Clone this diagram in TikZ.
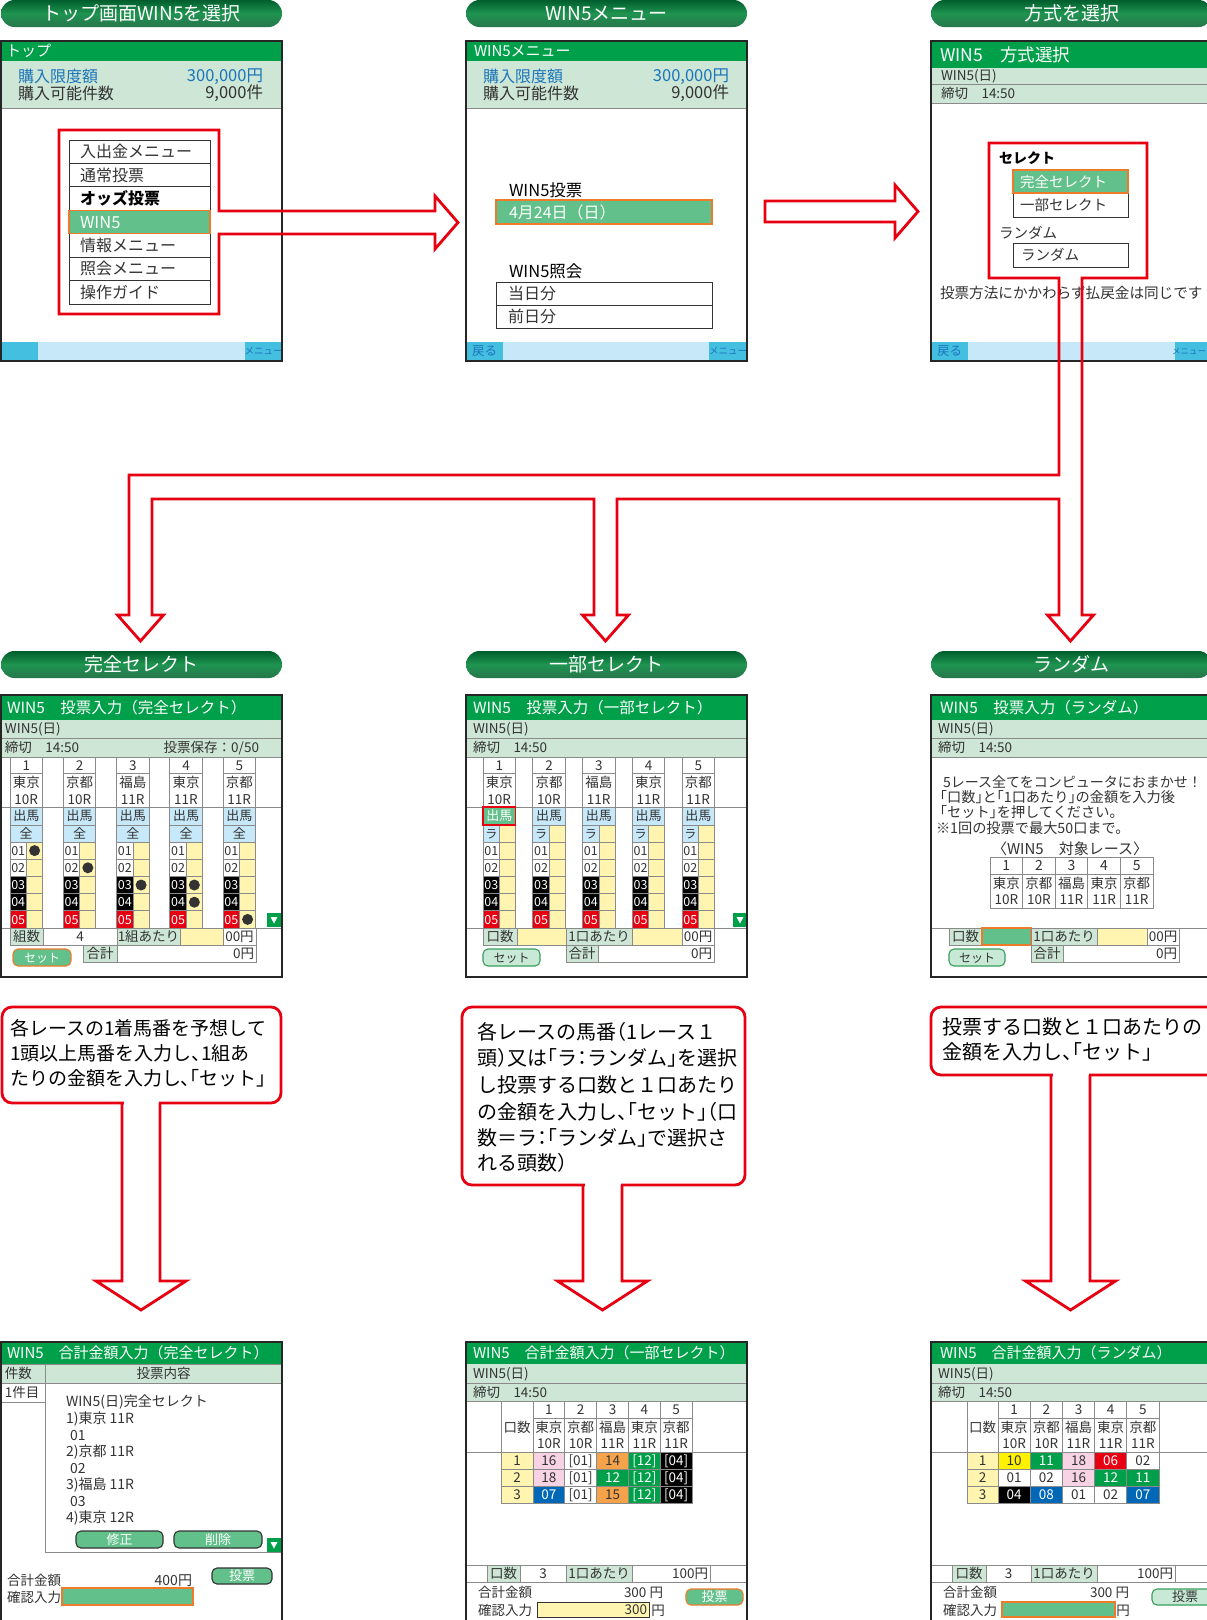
\documentclass[tikz,border=0pt]{standalone}
\usepackage{fontspec}
\setmainfont{Noto Sans CJK JP}
\newfontfamily\cfont[RawFeature=+halt]{Noto Sans CJK JP}
\usetikzlibrary{calc}
\definecolor{hdrg}{HTML}{00A04A}
\definecolor{lgr}{HTML}{CDE6D5}
\definecolor{selg}{HTML}{62C08A}
\definecolor{org}{HTML}{EE7B2C}
\definecolor{myred}{HTML}{E60012}
\definecolor{lblue}{HTML}{C6E8F8}
\definecolor{cyanb}{HTML}{45BFE0}
\definecolor{ylw}{HTML}{FFF5B1}
\definecolor{pnk}{HTML}{F8D3E3}
\definecolor{orng}{HTML}{F5A34A}
\definecolor{blu}{HTML}{0068B7}
\definecolor{txtb}{HTML}{1B75BC}
\definecolor{dk}{HTML}{333333}
\definecolor{pilld}{HTML}{005E2C}
\definecolor{pillm}{HTML}{1F9450}
\definecolor{byel}{HTML}{FFF100}
\definecolor{gline}{HTML}{8A8A8A}
\definecolor{btng}{HTML}{3A9E5E}
\newcommand\fs[1]{\fontsize{#1}{#1}\selectfont}
\newcounter{nc}
\newcommand\st{\rule[-0.12em]{0pt}{1em}}
\newcommand\T[4][]{\stepcounter{nc}\node[tx,#1] (t\arabic{nc}) at (#2,#3) {\st#4};}
\newcommand\B[7][]{\draw[cl,fill=#6] (#2,#3) rectangle (#4,#5);\stepcounter{nc}\node[tx,anchor=center,#1] (t\arabic{nc}) at ({(#2+#4)/2},{(#3+#5)/2}) {\st#7};}
\newcommand\pill[5]{\shade[pillst] (#1,#3) rectangle (#2,#4);\stepcounter{nc}\node[tx,anchor=center,text=white,font=\fs{19}] (t\arabic{nc}) at ({(#1+#2)/2},{(#3+#4)/2}) {\st#5};}
\newcommand\btn[8][]{\draw[rounded corners=5,line width=1.1,fill=#6,draw=#7] (#2,#3) rectangle (#4,#5);\stepcounter{nc}\node[tx,anchor=center,#1] (t\arabic{nc}) at ({(#2+#4)/2},{(#3+#5)/2}) {\st#8};}
\newcommand\Dc[7]{\pgfmathsetmacro\dxa{#1+#2*(#3-1)}\pgfmathsetmacro\dxb{\dxa+#2}\pgfmathsetmacro\dya{1452+17*(#4-1)}\pgfmathsetmacro\dyb{\dya+17}\B[text=#6,font=\fs{13.5}]{\dxa}{\dya}{\dxb}{\dyb}{#5}{#7}}
\newcommand\tri[2]{\fill[hdrg] (#1,#2) rectangle ({#1+14},{#2+14});\fill[white] ({#1+3.5},{#2+4}) -- ({#1+10.5},{#2+4}) -- ({#1+7},{#2+10.5}) -- cycle;}
\begin{document}
\begin{tikzpicture}[x=1pt,y=-1pt,
  tx/.style={inner sep=0pt,outer sep=0pt,anchor=west,font=\fs{13.5},text=dk},
  cl/.style={draw=gline,line width=0.9},
  frame/.style={draw=black!85,line width=1.8},
  redl/.style={draw=myred,line width=2.8,line join=miter,miter limit=10},
  pillst/.style={rounded corners=13.5,top color=pilld,bottom color=pilld!85!white,middle color=pillm}]
\clip (0,0) rectangle (1207,1620);
\fill[white] (0,0) rectangle (1207,1620);

% ================= ROW 1 =================
\pill{1}{282}{0}{27}{トップ画面WIN5を選択}
\pill{466}{747}{0}{27}{WIN5メニュー}
\pill{931}{1212}{0}{27}{方式を選択}

% ---- Panel A
\fill[hdrg] (1,41) rectangle (282,61);
\T[text=white,font=\fs{15}]{6}{51}{トップ}
\fill[lgr] (1,61) rectangle (282,108);
\draw[cl] (1,108) -- (282,108);
\T[text=txtb,font=\fs{16}]{18}{76}{購入限度額}
\T[font=\fs{16}]{18}{93}{購入可能件数}
\T[text=txtb,font=\fs{16.5},anchor=east]{263}{76}{300,000円}
\T[font=\fs{16.5},anchor=east]{263}{93}{9,000件}
\foreach \ya in {140,163.43,186.86,233.71,257.14,280.57}{\draw[dk,line width=1,fill=white] (69,\ya) rectangle (210,\ya+23.43);}
\draw[org,fill=selg,line width=1.1] (69,210.3) rectangle (210,233.7);
\T[font=\fs{16}]{80}{151.7}{入出金メニュー}
\T[font=\fs{16}]{80}{175.1}{通常投票}
\T[font=\bfseries\fs{16},text=black]{80}{198.6}{オッズ投票}
\T[font=\fs{16.5},text=white]{80}{222}{WIN5}
\T[font=\fs{16}]{80}{245.4}{情報メニュー}
\T[font=\fs{16}]{80}{268.9}{照会メニュー}
\T[font=\fs{16}]{80}{292.3}{操作ガイド}
\fill[lblue] (1,342) rectangle (282,360);
\fill[cyanb] (1,342) rectangle (38,360);
\fill[cyanb] (245,342) rectangle (282,360);
\T[text=txtb,font=\fs{9.5},anchor=center]{263.5}{351}{メニュー}
\draw[frame] (1,41) rectangle (282,361);
\draw[redl] (219,211) -- (219,130) -- (59,130) -- (59,314) -- (219,314) -- (219,234) -- (435,234) -- (435,249) -- (458,222.5) -- (435,196) -- (435,211) -- cycle;

% ---- Panel B
\fill[hdrg] (466,41) rectangle (747,61);
\T[text=white,font=\fs{15}]{474}{51}{WIN5メニュー}
\fill[lgr] (466,61) rectangle (747,108);
\draw[cl] (466,108) -- (747,108);
\T[text=txtb,font=\fs{16}]{483}{76}{購入限度額}
\T[font=\fs{16}]{483}{93}{購入可能件数}
\T[text=txtb,font=\fs{16.5},anchor=east]{729}{76}{300,000円}
\T[font=\fs{16.5},anchor=east]{729}{93}{9,000件}
\T[text=black,font=\fs{16.5}]{509}{190}{WIN5投票}
\draw[org,fill=selg,line width=1.1] (496,200) rectangle (712,224);
\T[text=white,font=\fs{16}]{509}{212}{4月24日（日）}
\T[text=black,font=\fs{16.5}]{509}{271}{WIN5照会}
\draw[dk,line width=1,fill=white] (496,282) rectangle (712,305);
\draw[dk,line width=1,fill=white] (496,305) rectangle (712,328);
\T[font=\fs{16}]{508}{293.5}{当日分}
\T[font=\fs{16}]{508}{316.5}{前日分}
\fill[lblue] (466,342) rectangle (747,360);
\fill[cyanb] (466,342) rectangle (503,360);
\fill[cyanb] (709,342) rectangle (747,360);
\T[text=txtb,font=\fs{12.5},anchor=center]{484.5}{351}{戻る}
\T[text=txtb,font=\fs{9.5},anchor=center]{728}{351}{メニュー}
\draw[frame] (466,41) rectangle (747,361);
\draw[redl] (765,201) -- (895,201) -- (895,185) -- (918,211.5) -- (895,238) -- (895,222) -- (765,222) -- cycle;

% ---- Panel C
\fill[hdrg] (931,41) rectangle (1215,68);
\T[text=white,font=\fs{17.5}]{940}{54.5}{WIN5　方式選択}
\fill[lgr] (931,68) rectangle (1215,103);
\draw[cl] (931,84) -- (1215,84) (931,103) -- (1215,103);
\T{941}{76}{WIN5(日)}
\T{941}{93.5}{締切　14:50}
\T[text=black,font=\bfseries\fs{14}]{999}{158}{セレクト}
\draw[dk,line width=1,fill=white] (1013,193) rectangle (1128,217);
\draw[org,fill=selg,line width=1.1] (1013,170) rectangle (1128,193);
\T[text=white,font=\fs{14.5}]{1020}{181.5}{完全セレクト}
\T[font=\fs{14.5}]{1020}{205}{一部セレクト}
\T[font=\fs{14.5}]{999}{233}{ランダム}
\draw[dk,line width=1,fill=white] (1013,243) rectangle (1128,267);
\T[font=\fs{14.5}]{1021}{255}{ランダム}
\T[font=\fs{14.6}]{940}{293}{投票方法にかかわらず払戻金は同じです}
\fill[lblue] (931,342) rectangle (1215,360);
\fill[cyanb] (931,342) rectangle (968,360);
\fill[cyanb] (1175,342) rectangle (1215,360);
\T[text=txtb,font=\fs{12.5},anchor=center]{949.5}{351}{戻る}
\T[text=txtb,font=\fs{8.5},anchor=east]{1206}{351}{メニュー}
\draw[frame] (931,41) rectangle (1215,361);
\draw[redl] (1059,278) -- (989,278) -- (989,143) -- (1147,143) -- (1147,278) -- (1082,278) -- (1082,615) -- (1093.5,615) -- (1070.5,641) -- (1047.5,615) -- (1059,615) -- (1059,499) -- (617,499) -- (617,615) -- (628.5,615) -- (605.5,641) -- (582.5,615) -- (594,615) -- (594,499) -- (152,499) -- (152,615) -- (163.5,615) -- (140.5,641) -- (117.5,615) -- (129,615) -- (129,475) -- (1059,475) -- cycle;

% ================= ROW 2 =================
\pill{1}{282}{651}{678}{完全セレクト}
\pill{466}{747}{651}{678}{一部セレクト}
\pill{931}{1212}{651}{678}{ランダム}

% ---- Panel D
\fill[hdrg] (1,695) rectangle (282,720);
\T[text=white,font=\fs{15.5}]{7}{707.5}{WIN5　投票入力（完全セレクト）}
\fill[lgr] (1,720) rectangle (282,757);
\draw[cl] (1,738) -- (282,738) (1,757) -- (282,757) (1,807) -- (282,807) (1,928) -- (282,928);
\T{5}{729}{WIN5(日)}
\T{5}{747.5}{締切　14:50}
\T[anchor=east]{259}{747.5}{投票保存：0/50}
\foreach \n/\p/\r [count=\k] in {1/東京/10R,2/京都/10R,3/福島/11R,4/東京/11R,5/京都/11R}{
  \pgfmathsetmacro\xa{10+53.25*(\k-1)}
  \pgfmathsetmacro\xb{\xa+32.5}
  \pgfmathsetmacro\xm{\xa+16.5}
  \pgfmathsetmacro\xc{\xa+16.25}
  \B[font=\fs{13.5}]{\xa}{757}{\xb}{773}{white}{\n}
  \draw[cl,fill=white] (\xa,773) rectangle (\xb,807);
  \T[anchor=center,font=\fs{13.5}]{\xc}{782}{\p}
  \T[anchor=center,font=\fs{13.5}]{\xc}{799}{\r}
  \B[font=\fs{13}]{\xa}{807}{\xb}{825}{lblue}{出馬}
  \B[font=\fs{13}]{\xa}{825}{\xb}{842}{lblue}{全}
  \foreach \lab/\lf/\lt [count=\j] in {01/white/dk,02/white/dk,03/black/white,04/black/white,05/myred/white}{
    \pgfmathsetmacro\ya{842+17.2*(\j-1)}
    \pgfmathsetmacro\yb{\ya+17.2}
    \B[text=\lt,font=\fs{12.5}]{\xa}{\ya}{\xm}{\yb}{\lf}{\lab}
    \draw[cl,fill=ylw] (\xm,\ya) rectangle (\xb,\yb);
  }
}
\foreach \c/\r in {1/1,2/2,3/3,4/3,4/4,5/5}{\fill[black!80] ({10+53.25*(\c-1)+24.6},{842+17.2*(\r-1)+8.6}) circle (5.5pt);}
\tri{267}{913}
\B{10}{928}{43}{945}{lgr}{組数}
\B{43}{928}{117}{945}{white}{4}
\B{117}{928}{180}{945}{lgr}{1組あたり}
\draw[cl,fill=ylw] (180,928) rectangle (223,945);
\B{223}{928}{256}{945}{white}{00円}
\B{83}{945}{117}{962}{lgr}{合計}
\draw[cl,fill=white] (117,945) rectangle (256,962);
\T[anchor=east]{254}{953.5}{0円}
\btn[text=white,font=\fs{12}]{13}{949}{71}{966}{selg}{org}{セット}
\draw[frame] (1,695) rectangle (282,977);

% ---- Panel E
\fill[hdrg] (466,695) rectangle (747,720);
\T[text=white,font=\fs{15.5}]{473}{707.5}{WIN5　投票入力（一部セレクト）}
\fill[lgr] (466,720) rectangle (747,757);
\draw[cl] (466,738) -- (747,738) (466,757) -- (747,757) (466,807) -- (747,807) (466,928) -- (747,928);
\T{473}{729}{WIN5(日)}
\T{473}{747.5}{締切　14:50}
\foreach \n/\p/\r [count=\k] in {1/東京/10R,2/京都/10R,3/福島/11R,4/東京/11R,5/京都/11R}{
  \pgfmathsetmacro\xa{483+49.75*(\k-1)}
  \pgfmathsetmacro\xb{\xa+32.5}
  \pgfmathsetmacro\xm{\xa+16.5}
  \pgfmathsetmacro\xc{\xa+16.25}
  \B[font=\fs{13.5}]{\xa}{757}{\xb}{773}{white}{\n}
  \draw[cl,fill=white] (\xa,773) rectangle (\xb,807);
  \T[anchor=center,font=\fs{13.5}]{\xc}{782}{\p}
  \T[anchor=center,font=\fs{13.5}]{\xc}{799}{\r}
  \B[font=\fs{13}]{\xa}{807}{\xb}{825}{lblue}{出馬}
  \B[font=\fs{12}]{\xa}{825}{\xm}{842}{lblue}{ラ}
  \draw[cl,fill=ylw] (\xm,825) rectangle (\xb,842);
  \foreach \lab/\lf/\lt [count=\j] in {01/white/dk,02/white/dk,03/black/white,04/black/white,05/myred/white}{
    \pgfmathsetmacro\ya{842+17.2*(\j-1)}
    \pgfmathsetmacro\yb{\ya+17.2}
    \B[text=\lt,font=\fs{12.5}]{\xa}{\ya}{\xm}{\yb}{\lf}{\lab}
    \draw[cl,fill=ylw] (\xm,\ya) rectangle (\xb,\yb);
  }
}
\draw[myred,line width=1.2,fill=selg] (483,807) rectangle (515.5,825);
\T[anchor=center,text=white,font=\fs{13}]{499.25}{816}{出馬}
\tri{733}{913}
\B{483}{928}{517}{945}{lgr}{口数}
\draw[cl,fill=ylw] (517,928) rectangle (566,945);
\B{566}{928}{632}{945}{lgr}{1口あたり}
\draw[cl,fill=ylw] (632,928) rectangle (682,945);
\B{682}{928}{714}{945}{white}{00円}
\B{566}{945}{598}{962}{lgr}{合計}
\draw[cl,fill=white] (598,945) rectangle (714,962);
\T[anchor=east]{712}{953.5}{0円}
\btn[font=\fs{12}]{483}{949}{540}{966}{selg!35!white}{btng}{セット}
\draw[frame] (466,695) rectangle (747,977);

% ---- Panel F
\fill[hdrg] (931,695) rectangle (1215,720);
\T[text=white,font=\fs{15.5}]{940}{707.5}{WIN5　投票入力（ランダム）}
\fill[lgr] (931,720) rectangle (1215,757);
\draw[cl] (931,738) -- (1215,738) (931,757) -- (1215,757);
\T{938}{729}{WIN5(日)}
\T{938}{747.5}{締切　14:50}
\T[font=\fs{14}]{943}{782}{5レース全てをコンピュータにおまかせ！}
\T[font=\cfont\fs{14.2}]{940}{797}{「口数」と「1口あたり」の金額を入力後}
\T[font=\cfont\fs{14.2}]{940}{812}{「セット」を押してください。}
\T[font=\fs{14.2}]{936}{828}{※1回の投票で最大50口まで。}
\T[font=\fs{15},anchor=center]{1070}{849}{〈WIN5　対象レース〉}
\foreach \n/\p/\r [count=\k] in {1/東京/10R,2/京都/10R,3/福島/11R,4/東京/11R,5/京都/11R}{
  \pgfmathsetmacro\xa{990+32.6*(\k-1)}
  \pgfmathsetmacro\xb{\xa+32.6}
  \pgfmathsetmacro\xc{\xa+16.3}
  \B[font=\fs{14}]{\xa}{857}{\xb}{874}{white}{\n}
  \draw[cl,fill=white] (\xa,874) rectangle (\xb,908);
  \T[anchor=center,font=\fs{13.5}]{\xc}{883}{\p}
  \T[anchor=center,font=\fs{13.5}]{\xc}{899.5}{\r}
}
\draw[cl] (931,928) -- (1215,928);
\B{949}{928}{982}{945}{lgr}{口数}
\draw[org,line width=1.1,fill=selg] (982,928) rectangle (1031,945);
\B{1031}{928}{1097}{945}{lgr}{1口あたり}
\draw[cl,fill=ylw] (1097,928) rectangle (1147,945);
\B{1147}{928}{1179}{945}{white}{00円}
\B{1031}{945}{1063}{962}{lgr}{合計}
\draw[cl,fill=white] (1063,945) rectangle (1179,962);
\T[anchor=east]{1177}{953.5}{0円}
\btn[font=\fs{12}]{949}{949}{1005}{966}{selg!35!white}{btng}{セット}
\draw[frame] (931,695) rectangle (1215,977);

% ================= ROW 3 callouts =================
\draw[redl,rounded corners=10] (2,1007) rectangle (281,1103);
\fill[white] (123.5,1099) rectangle (158.5,1107);
\draw[redl] (122,1103) -- (122,1281) -- (96,1281) -- (141,1310) -- (186,1281) -- (160,1281) -- (160,1103);
\T[font=\cfont\fs{19},text=black]{10}{1028}{各レースの1着馬番を予想して}
\T[font=\cfont\fs{19},text=black]{10}{1053}{1頭以上馬番を入力し、1組あ}
\T[font=\cfont\fs{19},text=black]{10}{1078}{たりの金額を入力し、「セット」}

\draw[redl,rounded corners=10] (462,1007) rectangle (745,1185);
\fill[white] (584.5,1181) rectangle (620.5,1189);
\draw[redl] (583,1185) -- (583,1281) -- (557.5,1281) -- (602.5,1310) -- (647.5,1281) -- (622,1281) -- (622,1185);
\T[font=\cfont\fs{20},text=black]{477}{1032}{各レースの馬番（1レース１}
\T[font=\cfont\fs{20},text=black]{477}{1058}{頭）又は「ラ：ランダム」を選択}
\T[font=\cfont\fs{20},text=black]{477}{1085}{し投票する口数と１口あたり}
\T[font=\cfont\fs{20},text=black]{477}{1112}{の金額を入力し、「セット」（口}
\T[font=\cfont\fs{20},text=black]{477}{1138}{数＝ラ：「ランダム」で選択さ}
\T[font=\cfont\fs{20},text=black]{477}{1163}{れる頭数）}

\draw[redl,rounded corners=10] (931,1007) rectangle (1225,1075);
\fill[white] (1052.5,1071) rectangle (1088.5,1079);
\draw[redl] (1051,1075) -- (1051,1281) -- (1025.5,1281) -- (1070.5,1310) -- (1115.5,1281) -- (1090,1281) -- (1090,1075);
\T[font=\cfont\fs{20},text=black]{942}{1027}{投票する口数と１口あたりの}
\T[font=\cfont\fs{20},text=black]{942}{1052}{金額を入力し、「セット」}

% ================= ROW 4 =================
% ---- Panel G
\fill[hdrg] (1,1342) rectangle (282,1364);
\T[text=white,font=\fs{15}]{7}{1353}{WIN5　合計金額入力（完全セレクト）}
\draw[cl,fill=lgr] (1,1364) rectangle (45,1383);
\T{5}{1373.5}{件数}
\B{45}{1364}{282}{1383}{lgr}{投票内容}
\T{5}{1392.5}{1件目}
\draw[cl] (1,1402) -- (45,1402);
\draw[cl] (45,1383) -- (45,1552) -- (282,1552);
\T[font=\fs{14}]{66}{1402}{WIN5(日)完全セレクト}
\T[font=\fs{14}]{66}{1418.5}{1)東京 11R}
\T[font=\fs{14}]{70}{1435}{01}
\T[font=\fs{14}]{66}{1451.5}{2)京都 11R}
\T[font=\fs{14}]{70}{1468}{02}
\T[font=\fs{14}]{66}{1484.5}{3)福島 11R}
\T[font=\fs{14}]{70}{1501}{03}
\T[font=\fs{14}]{66}{1517.5}{4)東京 12R}
\btn[text=white,font=\fs{13}]{76}{1531}{163}{1548}{selg}{dk}{修正}
\btn[text=white,font=\fs{13}]{174}{1531}{262}{1548}{selg}{dk}{削除}
\tri{267}{1538}
\T[font=\fs{13.5}]{7}{1580}{合計金額}
\T[font=\fs{14},anchor=east]{192}{1580}{400円}
\btn[text=white,font=\fs{13}]{212}{1568}{272}{1584}{selg}{dk}{投票}
\T[font=\fs{13.5}]{7}{1597}{確認入力}
\draw[org,fill=selg,line width=1.1] (62,1588) rectangle (193,1605);
\draw[frame] (1,1342) rectangle (282,1630);

% ---- Panel H
\fill[hdrg] (466,1342) rectangle (747,1364);
\T[text=white,font=\fs{15}]{473}{1353}{WIN5　合計金額入力（一部セレクト）}
\fill[lgr] (466,1364) rectangle (747,1401);
\draw[cl] (466,1383) -- (747,1383) (466,1401) -- (747,1401) (466,1452) -- (747,1452);
\T{473}{1373.5}{WIN5(日)}
\T{473}{1392}{締切　14:50}
\draw[cl,fill=white] (501,1401) rectangle (533,1452);
\T[anchor=center,font=\fs{13.5}]{517}{1427}{口数}
\foreach \n/\p/\r [count=\k] in {1/東京/10R,2/京都/10R,3/福島/11R,4/東京/11R,5/京都/11R}{
  \pgfmathsetmacro\xa{533+31.8*(\k-1)}
  \pgfmathsetmacro\xb{\xa+31.8}
  \pgfmathsetmacro\xc{\xa+15.9}
  \B[font=\fs{13.5}]{\xa}{1401}{\xb}{1418}{white}{\n}
  \draw[cl,fill=white] (\xa,1418) rectangle (\xb,1452);
  \T[anchor=center,font=\fs{13.5}]{\xc}{1427}{\p}
  \T[anchor=center,font=\fs{13.5}]{\xc}{1443.5}{\r}
}
\Dc{501}{32}{1}{1}{ylw}{dk}{1}\Dc{501}{32}{1}{2}{ylw}{dk}{2}\Dc{501}{32}{1}{3}{ylw}{dk}{3}
\Dc{533}{31.8}{1}{1}{pnk}{dk}{16}\Dc{533}{31.8}{2}{1}{white}{dk}{[01]}\Dc{533}{31.8}{3}{1}{orng}{dk}{14}\Dc{533}{31.8}{4}{1}{hdrg}{white}{[12]}\Dc{533}{31.8}{5}{1}{black}{white}{[04]}
\Dc{533}{31.8}{1}{2}{pnk}{dk}{18}\Dc{533}{31.8}{2}{2}{white}{dk}{[01]}\Dc{533}{31.8}{3}{2}{hdrg}{white}{12}\Dc{533}{31.8}{4}{2}{hdrg}{white}{[12]}\Dc{533}{31.8}{5}{2}{black}{white}{[04]}
\Dc{533}{31.8}{1}{3}{blu}{white}{07}\Dc{533}{31.8}{2}{3}{white}{dk}{[01]}\Dc{533}{31.8}{3}{3}{orng}{dk}{15}\Dc{533}{31.8}{4}{3}{hdrg}{white}{[12]}\Dc{533}{31.8}{5}{3}{black}{white}{[04]}
\draw[cl] (466,1565) -- (747,1565) (466,1582) -- (747,1582);
\B[font=\fs{13.5}]{487}{1565}{520}{1582}{lgr}{口数}
\B[font=\fs{13.5}]{520}{1565}{566}{1582}{white}{3}
\B[font=\fs{13.5}]{566}{1565}{632}{1582}{lgr}{1口あたり}
\draw[cl,fill=white] (632,1565) rectangle (710,1582);
\T[anchor=east,font=\fs{13.5}]{708}{1573.5}{100円}
\T[font=\fs{13.5}]{478}{1592}{合計金額}
\T[font=\fs{13.5},anchor=east]{663}{1592}{300 円}
\T[font=\fs{13.5}]{478}{1610}{確認入力}
\draw[dk,line width=0.9,fill=ylw] (537,1602) rectangle (649,1617);
\T[font=\fs{13.5},anchor=east]{647}{1609.5}{300}
\T[font=\fs{13.5},anchor=center]{658}{1610}{円}
\btn[text=white,font=\fs{13}]{686}{1589}{743}{1605}{selg}{org}{投票}
\draw[frame] (466,1342) rectangle (747,1630);

% ---- Panel I
\fill[hdrg] (931,1342) rectangle (1215,1364);
\T[text=white,font=\fs{15}]{940}{1353}{WIN5　合計金額入力（ランダム）}
\fill[lgr] (931,1364) rectangle (1215,1401);
\draw[cl] (931,1383) -- (1215,1383) (931,1401) -- (1215,1401) (931,1452) -- (1215,1452);
\T{938}{1373.5}{WIN5(日)}
\T{938}{1392}{締切　14:50}
\draw[cl,fill=white] (967,1401) rectangle (998,1452);
\T[anchor=center,font=\fs{13.5}]{982.5}{1427}{口数}
\foreach \n/\p/\r [count=\k] in {1/東京/10R,2/京都/10R,3/福島/11R,4/東京/11R,5/京都/11R}{
  \pgfmathsetmacro\xa{998+32.2*(\k-1)}
  \pgfmathsetmacro\xb{\xa+32.2}
  \pgfmathsetmacro\xc{\xa+16.1}
  \B[font=\fs{13.5}]{\xa}{1401}{\xb}{1418}{white}{\n}
  \draw[cl,fill=white] (\xa,1418) rectangle (\xb,1452);
  \T[anchor=center,font=\fs{13.5}]{\xc}{1427}{\p}
  \T[anchor=center,font=\fs{13.5}]{\xc}{1443.5}{\r}
}
\Dc{967}{31}{1}{1}{ylw}{dk}{1}\Dc{967}{31}{1}{2}{ylw}{dk}{2}\Dc{967}{31}{1}{3}{ylw}{dk}{3}
\Dc{998}{32.2}{1}{1}{byel}{dk}{10}\Dc{998}{32.2}{2}{1}{hdrg}{white}{11}\Dc{998}{32.2}{3}{1}{pnk}{dk}{18}\Dc{998}{32.2}{4}{1}{myred}{white}{06}\Dc{998}{32.2}{5}{1}{white}{dk}{02}
\Dc{998}{32.2}{1}{2}{white}{dk}{01}\Dc{998}{32.2}{2}{2}{white}{dk}{02}\Dc{998}{32.2}{3}{2}{pnk}{dk}{16}\Dc{998}{32.2}{4}{2}{hdrg}{white}{12}\Dc{998}{32.2}{5}{2}{hdrg}{white}{11}
\Dc{998}{32.2}{1}{3}{black}{white}{04}\Dc{998}{32.2}{2}{3}{blu}{white}{08}\Dc{998}{32.2}{3}{3}{white}{dk}{01}\Dc{998}{32.2}{4}{3}{white}{dk}{02}\Dc{998}{32.2}{5}{3}{blu}{white}{07}
\draw[cl] (931,1565) -- (1215,1565) (931,1582) -- (1215,1582);
\B[font=\fs{13.5}]{952}{1565}{986}{1582}{lgr}{口数}
\B[font=\fs{13.5}]{986}{1565}{1031}{1582}{white}{3}
\B[font=\fs{13.5}]{1031}{1565}{1097}{1582}{lgr}{1口あたり}
\draw[cl,fill=white] (1097,1565) rectangle (1175,1582);
\T[anchor=east,font=\fs{13.5}]{1173}{1573.5}{100円}
\T[font=\fs{13.5}]{943}{1592}{合計金額}
\T[font=\fs{13.5},anchor=east]{1129}{1592}{300 円}
\T[font=\fs{13.5}]{943}{1610}{確認入力}
\draw[org,line width=1.1,fill=selg] (1002,1602) rectangle (1115,1617);
\T[font=\fs{13.5},anchor=center]{1123}{1610}{円}
\btn[font=\fs{13}]{1152}{1589}{1218}{1605}{selg!35!white}{btng}{投票}
\draw[frame] (931,1342) rectangle (1215,1630);
\end{tikzpicture}
\end{document}
